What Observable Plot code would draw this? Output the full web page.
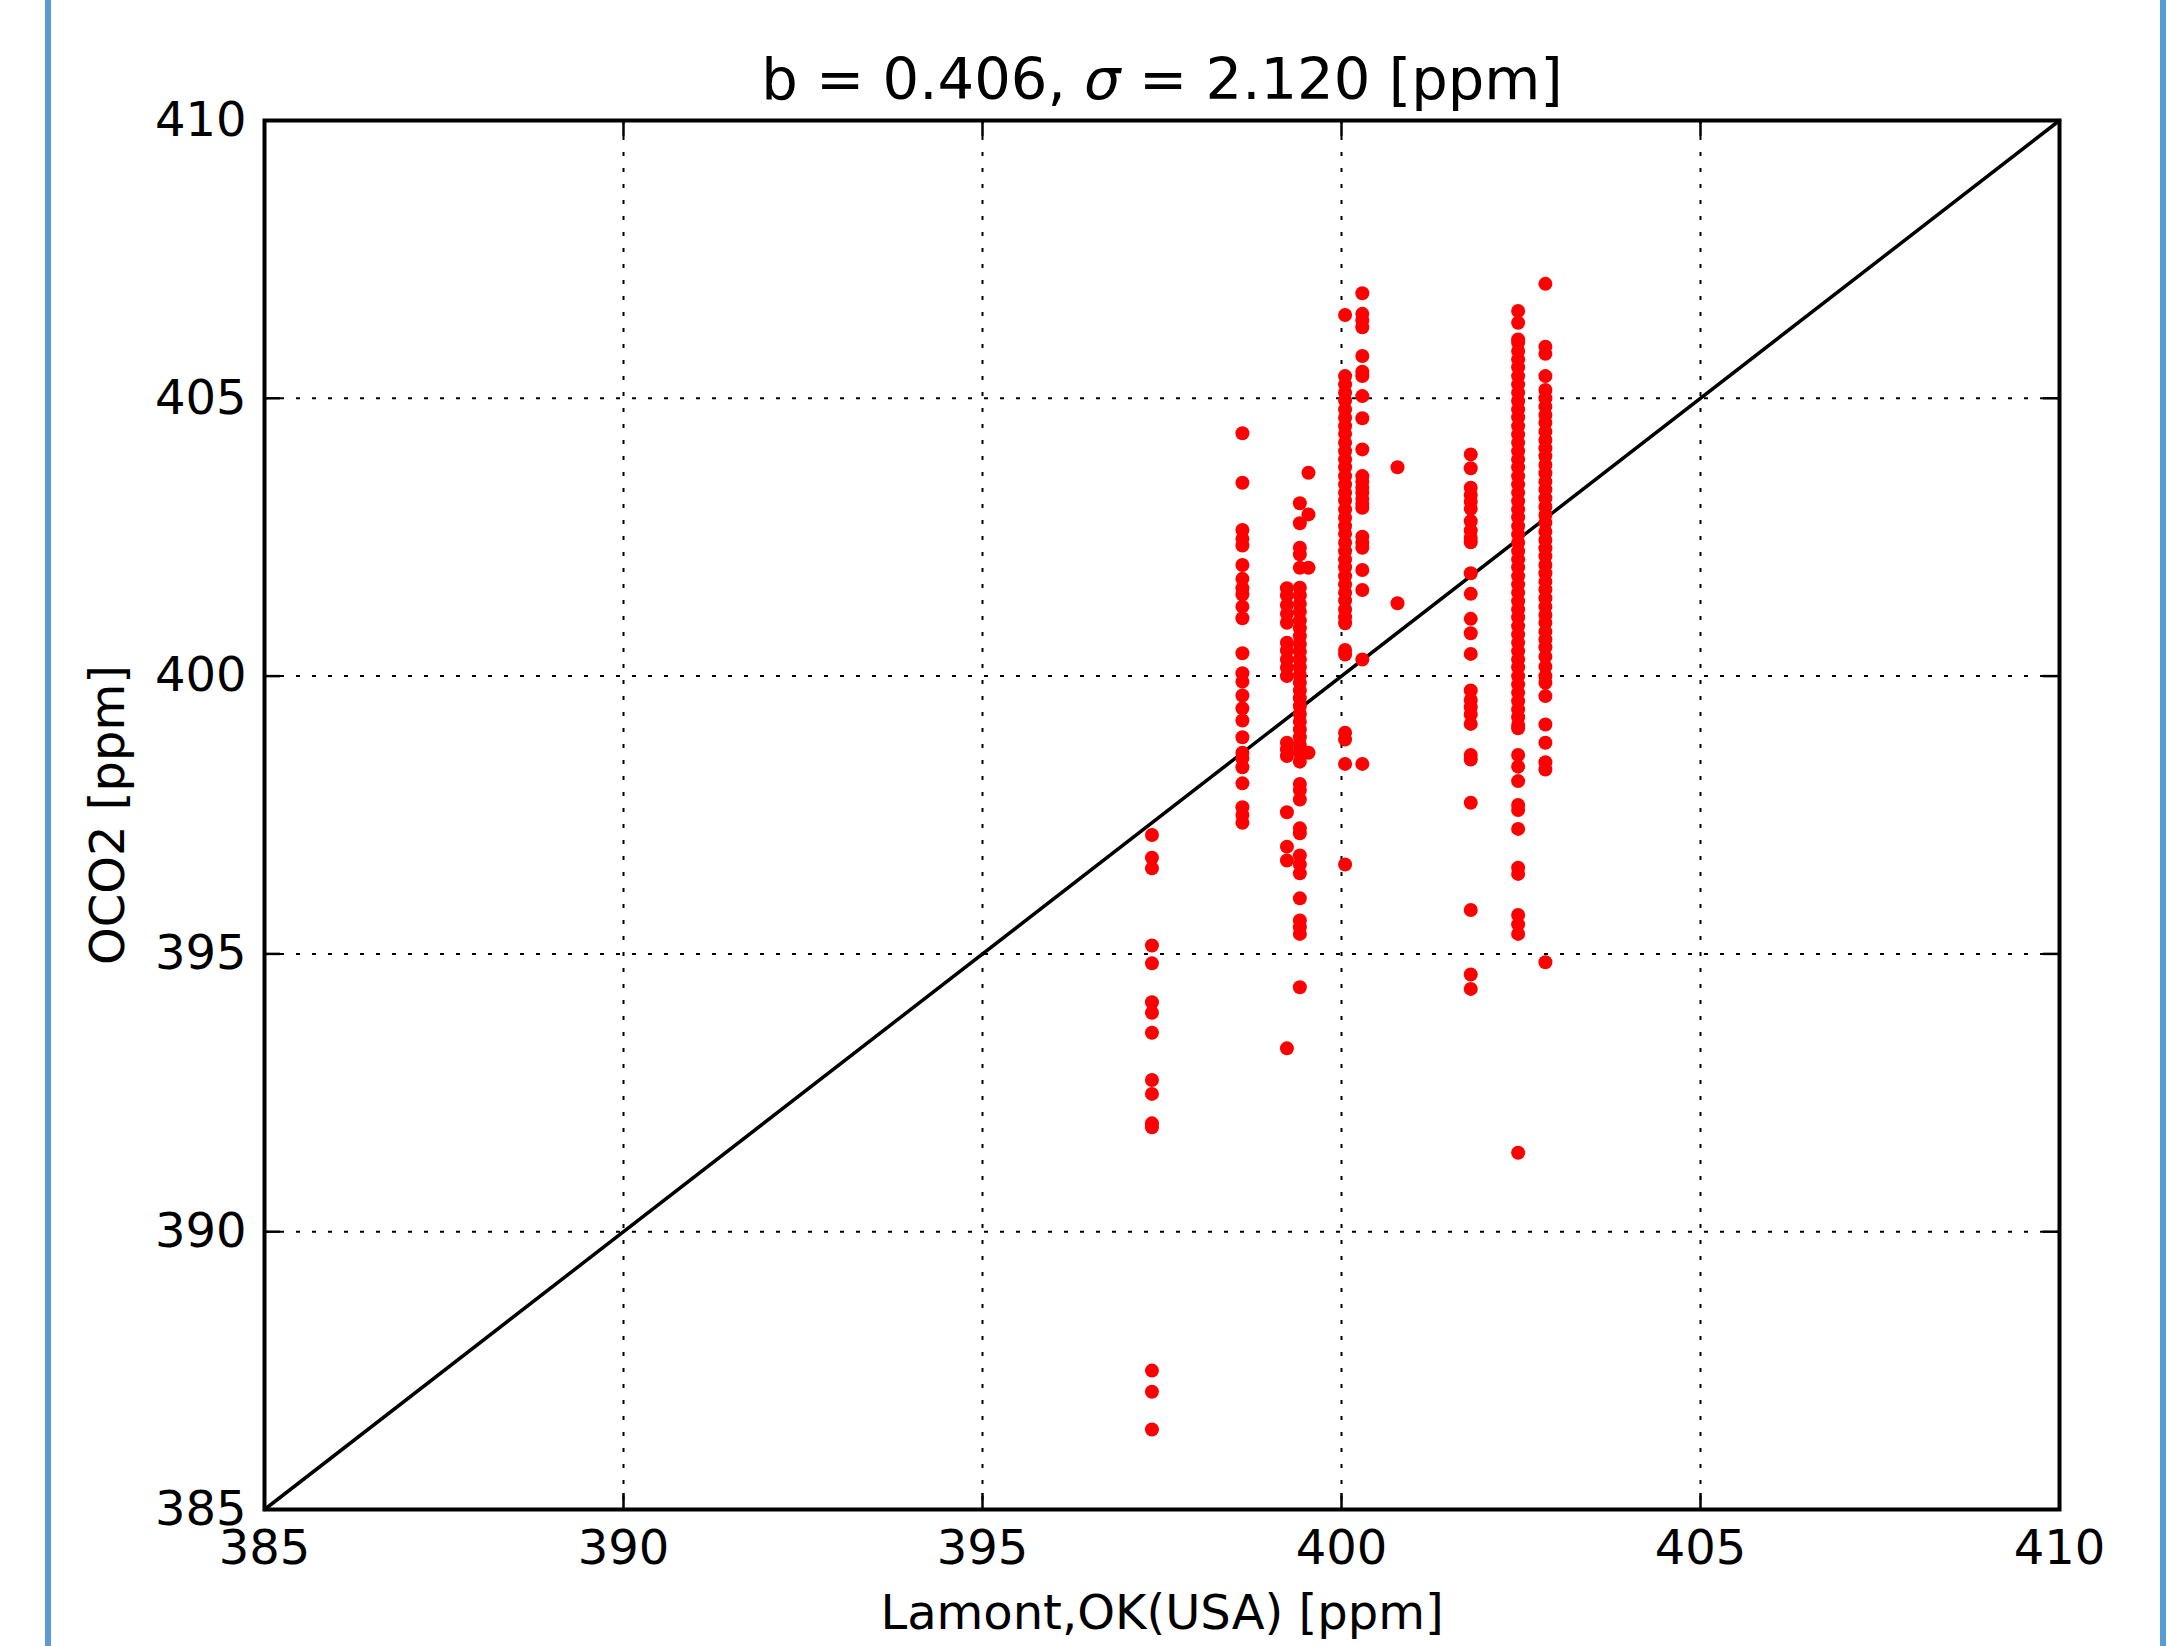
<!DOCTYPE html>
<html>
<head>
<meta charset="utf-8">
<script src="https://cdn.jsdelivr.net/npm/d3@7"></script>
<script src="https://cdn.jsdelivr.net/npm/@observablehq/plot@0.6"></script>
<style>
  html, body { margin: 0; padding: 0; background: white; }
  #wrap { position: relative; width: 2167px; height: 1646px; overflow: hidden; }
  .edge { position: absolute; top: 0; width: 6px; height: 1646px; background: #5b9bd5; }
</style>
</head>
<body>
<div id="wrap">
  <div id="chart"></div>
  <div class="edge" style="left:45px"></div>
  <div class="edge" style="left:2160px"></div>
</div>
<script>
// ---- data (Lamont, OK reference value -> OCO2 soundings, ppm) ----
const titleText = "b = 0.406, σ = 2.120 [ppm]";
const xLabel = "Lamont,OK(USA) [ppm]";
const yLabel = "OCO2 [ppm]";
const xTicks = [385, 390, 395, 400, 405, 410];
const yTicks = [385, 390, 395, 400, 405, 410];
const oneToOne = [385, 410];

const ref_397_36 = [397.14, 396.73, 396.54, 395.15, 394.83, 394.13, 393.94, 393.58, 392.73, 392.48, 391.95, 391.88, 387.5, 387.12, 386.44];
const ref_398_62 = [404.37, 403.48, 402.63, 402.47, 402.35, 402.0, 401.75, 401.58, 401.47, 401.25, 401.04, 400.41, 400.05, 399.9, 399.65, 399.42, 399.2, 398.9, 398.62, 398.52, 398.36, 398.07, 397.64, 397.5, 397.36];
const ref_399_24 = [401.58, 401.45, 401.28, 401.12, 400.96, 400.6, 400.46, 400.3, 400.15, 400.0, 398.8, 398.68, 398.56, 397.55, 396.93, 396.68, 393.3];
const ref_399_42 = [403.11, 402.75, 402.31, 402.19, 401.95, 401.59, 401.45, 401.3, 401.16, 401.0, 400.86, 400.72, 400.58, 400.44, 400.3, 400.16, 400.02, 399.88, 399.74, 399.6, 399.46, 399.32, 399.18, 399.04, 398.9, 398.76, 398.62, 398.46, 398.06, 397.95, 397.78, 397.26, 397.17, 396.77, 396.61, 396.45, 396.0, 395.6, 395.48, 395.36, 394.4];
const ref_399_54 = [403.66, 402.91, 401.95, 398.62];
const ref_400_05 = [406.5, 405.4, 405.25, 405.1, 404.96, 404.8, 404.65, 404.5, 404.36, 404.2, 404.05, 403.9, 403.76, 403.6, 403.45, 403.3, 403.16, 403.0, 402.85, 402.7, 402.56, 402.4, 402.25, 402.1, 401.96, 401.8, 401.65, 401.5, 401.36, 401.2, 401.06, 400.95, 400.47, 400.39, 398.98, 398.86, 398.42, 396.61];
const ref_400_29 = [406.89, 406.52, 406.4, 406.28, 405.76, 405.48, 405.4, 405.04, 404.64, 404.08, 403.6, 403.5, 403.39, 403.3, 403.19, 403.1, 403.03, 402.51, 402.4, 402.31, 401.91, 401.55, 400.3, 398.42];
const ref_400_78 = [403.76, 401.31];
const ref_401_80 = [403.99, 403.74, 403.39, 403.26, 403.14, 403.01, 402.79, 402.62, 402.49, 402.41, 401.85, 401.48, 401.03, 400.77, 400.4, 399.74, 399.57, 399.44, 399.31, 399.14, 398.58, 398.5, 397.72, 395.79, 394.63, 394.37];
const ref_402_46 = [406.57, 406.36, 406.06, 406.0, 405.85, 405.7, 405.56, 405.4, 405.25, 405.1, 404.95, 404.8, 404.66, 404.5, 404.35, 404.2, 404.05, 403.9, 403.76, 403.6, 403.45, 403.3, 403.15, 403.0, 402.86, 402.7, 402.55, 402.4, 402.25, 402.1, 401.96, 401.8, 401.65, 401.5, 401.35, 401.2, 401.06, 400.9, 400.75, 400.6, 400.45, 400.3, 400.16, 400.0, 399.85, 399.7, 399.55, 399.4, 399.26, 399.12, 399.06, 398.58, 398.37, 398.11, 397.68, 397.59, 397.25, 396.55, 396.44, 395.7, 395.53, 395.36, 391.42];
const ref_402_84 = [407.06, 405.93, 405.8, 405.4, 405.15, 405.0, 404.85, 404.7, 404.56, 404.4, 404.25, 404.1, 403.96, 403.8, 403.65, 403.5, 403.36, 403.2, 403.05, 402.9, 402.76, 402.6, 402.45, 402.3, 402.16, 402.0, 401.85, 401.7, 401.56, 401.4, 401.25, 401.1, 400.96, 400.8, 400.66, 400.52, 400.35, 400.17, 400.0, 399.88, 399.64, 399.13, 398.8, 398.45, 398.32, 394.85];

const refValues = [397.36, 398.62, 399.24, 399.42, 399.54, 400.05, 400.29, 400.78, 401.80, 402.46, 402.84];
const ocoByRef = [ref_397_36, ref_398_62, ref_399_24, ref_399_42, ref_399_54, ref_400_05, ref_400_29, ref_400_78, ref_401_80, ref_402_46, ref_402_84];

const points = refValues.flatMap((rx, i) => ocoByRef[i].map(v => ({x: rx, y: v})));

// ---- layout ----
const W = 2167, H = 1646;
const mL = 264, mR = 108, mT = 120, mB = 137;
const frameW = W - mL - mR, frameH = H - mT - mB;
const tickLen = 16;
const font = "DejaVu Sans";

const plot = Plot.plot({
  width: W,
  height: H,
  marginLeft: mL,
  marginRight: mR,
  marginTop: mT,
  marginBottom: mB,
  style: {fontFamily: font, fontSize: "48px", background: "white", color: "black"},
  x: {domain: [385, 410], label: null},
  y: {domain: [385, 410], label: null},
  marks: [
    Plot.gridX(xTicks.slice(1, -1), {stroke: "black", strokeOpacity: 1, strokeWidth: 2, strokeDasharray: "4,12"}),
    Plot.gridY(yTicks.slice(1, -1), {stroke: "black", strokeOpacity: 1, strokeWidth: 2, strokeDasharray: "4,12"}),
    Plot.line(oneToOne, {x: d => d, y: d => d, stroke: "black", strokeWidth: 3.5}),
    Plot.dot(points, {x: "x", y: "y", r: 7, fill: "#ff0000", stroke: "none"}),
    // inward ticks on all four sides
    Plot.tickX(xTicks, {x: d => d, insetTop: frameH - tickLen, stroke: "black", strokeWidth: 2.5}),
    Plot.tickX(xTicks, {x: d => d, insetBottom: frameH - tickLen, stroke: "black", strokeWidth: 2.5}),
    Plot.tickY(yTicks, {y: d => d, insetRight: frameW - tickLen, stroke: "black", strokeWidth: 2.5}),
    Plot.tickY(yTicks, {y: d => d, insetLeft: frameW - tickLen, stroke: "black", strokeWidth: 2.5}),
    Plot.frame({stroke: "black", strokeWidth: 4}),
    Plot.axisX({ticks: xTicks, tickSize: 0, tickPadding: 20, fontSize: 48, label: null}),
    Plot.axisY({ticks: yTicks, tickSize: 0, tickPadding: 18, fontSize: 48, label: null}),
    Plot.text([titleText], {text: d => d, frameAnchor: "top", dy: -40, fontSize: 57.6, lineAnchor: "middle", fill: "black"}),
    Plot.text([xLabel], {text: d => d, frameAnchor: "bottom", dy: 104, fontSize: 48, lineAnchor: "middle", fill: "black"}),
    Plot.text([yLabel], {text: d => d, frameAnchor: "left", dx: -156, rotate: -90, fontSize: 48, textAnchor: "middle", lineAnchor: "middle", fill: "black"})
  ]
});

document.getElementById("chart").appendChild(plot);

// render σ in italic like mathtext
plot.querySelectorAll("text").forEach(t => {
  if (t.textContent === titleText) {
    const parts = titleText.split("σ");
    t.textContent = "";
    const ns = "http://www.w3.org/2000/svg";
    const a = document.createElementNS(ns, "tspan"); a.textContent = parts[0];
    const s = document.createElementNS(ns, "tspan"); s.textContent = "σ"; s.setAttribute("font-style", "italic");
    const b = document.createElementNS(ns, "tspan"); b.textContent = parts[1];
    t.appendChild(a); t.appendChild(s); t.appendChild(b);
  }
});
</script>
</body>
</html>
